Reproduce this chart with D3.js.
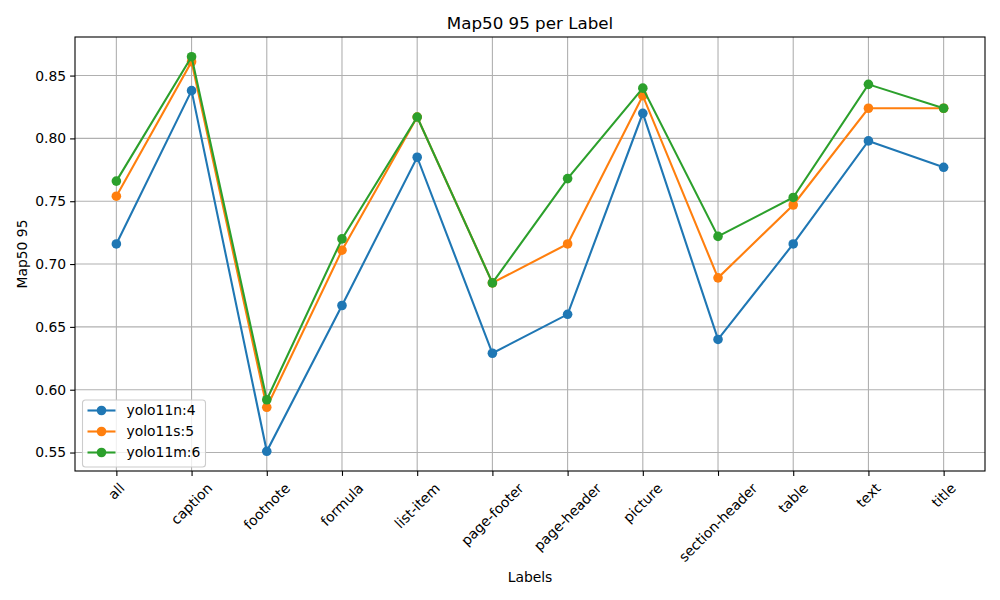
<!DOCTYPE html>
<html>
<head>
<meta charset="utf-8">
<script src="https://cdn.jsdelivr.net/npm/d3@7"></script>
<style>
  body { margin: 0; background: #fff; }
  svg { font-family: "DejaVu Sans", sans-serif; }
</style>
</head>
<body>
<div class="chart"></div>
<script>
// values
const labels = ["all", "caption", "footnote", "formula", "list-item", "page-footer",
  "page-header", "picture", "section-header", "table", "text", "title"];
const yolo11n = [0.716, 0.838, 0.551, 0.667, 0.785, 0.629, 0.660, 0.820, 0.640, 0.716, 0.798, 0.777];
const yolo11s = [0.754, 0.861, 0.586, 0.711, 0.817, 0.685, 0.716, 0.834, 0.689, 0.747, 0.824, 0.824];
const yolo11m = [0.766, 0.865, 0.592, 0.720, 0.817, 0.685, 0.768, 0.840, 0.722, 0.753, 0.843, 0.824];
const seriesNames = ["yolo11n:4", "yolo11s:5", "yolo11m:6"];
const yTicks = [0.55, 0.60, 0.65, 0.70, 0.75, 0.80, 0.85];

const colors = ["#1f77b4", "#ff7f0e", "#2ca02c"];
const series = [yolo11n, yolo11s, yolo11m].map((vals, i) => ({
  name: seriesNames[i], color: colors[i],
  points: vals.map((v, j) => ({ label: labels[j], value: v }))
}));

const width = 1000, height = 600;
const margin = { top: 37, right: 15, bottom: 129, left: 75 };
const plotW = width - margin.left - margin.right;
const plotH = height - margin.top - margin.bottom;
const markerR = 4.8;

const svg = d3.select(".chart").append("svg")
  .attr("width", width)
  .attr("height", height);

const g = svg.append("g")
  .attr("transform", `translate(${margin.left},${margin.top})`);

const x = d3.scalePoint()
  .domain(labels)
  .range([0, plotW])
  .padding(0.55);

// matplotlib style 5% margin around the data
const allVals = [].concat(yolo11n, yolo11s, yolo11m);
const lo = d3.min(allVals), hi = d3.max(allVals);
const pad = (hi - lo) * 0.05;
const y = d3.scaleLinear()
  .domain([lo - pad, hi + pad])
  .range([plotH, 0]);

// grid
g.append("g").selectAll("line")
  .data(labels).enter().append("line")
  .attr("x1", d => x(d)).attr("x2", d => x(d))
  .attr("y1", 0).attr("y2", plotH)
  .attr("stroke", "#b0b0b0").attr("stroke-width", 1.1);
g.append("g").selectAll("line")
  .data(yTicks).enter().append("line")
  .attr("x1", 0).attr("x2", plotW)
  .attr("y1", d => y(d)).attr("y2", d => y(d))
  .attr("stroke", "#b0b0b0").attr("stroke-width", 1.1);

// Y axis
const yAxis = g.append("g")
  .call(d3.axisLeft(y).tickValues(yTicks).tickFormat(d3.format(".2f"))
    .tickSize(4.9).tickPadding(4).tickSizeOuter(0));
yAxis.select(".domain").remove();
yAxis.selectAll("line").attr("stroke", "#000").attr("stroke-width", 1.1);
yAxis.selectAll("text").attr("font-size", "13.9px").attr("fill", "#000")
  .attr("font-family", "DejaVu Sans");

// X axis
const xAxis = g.append("g")
  .attr("transform", `translate(0,${plotH})`)
  .call(d3.axisBottom(x).tickSize(4.9).tickSizeOuter(0).tickFormat(""));
xAxis.select(".domain").remove();
xAxis.selectAll("line").attr("stroke", "#000").attr("stroke-width", 1.1);

// rotated tick labels, centred on the tick like matplotlib rotation=45
const xl = g.append("g");
labels.forEach(lab => {
  const t = xl.append("text")
    .attr("font-size", "13.9px")
    .attr("text-anchor", "middle")
    .attr("dy", "0.35em")
    .text(lab);
  const w = t.node().getComputedTextLength();
  const h = 13.9 * 1.05;
  const half = (w + h) * Math.SQRT1_2 / 2;
  t.attr("transform", `translate(${x(lab)},${plotH + 9.5 + half}) rotate(-45)`);
});

// spines
g.append("rect")
  .attr("width", plotW).attr("height", plotH)
  .attr("fill", "none").attr("stroke", "#000").attr("stroke-width", 1.1);

// lines + markers
const line = d3.line().x(d => x(d.label)).y(d => y(d.value));
series.forEach(s => {
  g.append("path")
    .datum(s.points)
    .attr("d", line)
    .attr("fill", "none")
    .attr("stroke", s.color)
    .attr("stroke-width", 2.1);
  g.append("g").selectAll("circle")
    .data(s.points).enter().append("circle")
    .attr("cx", d => x(d.label))
    .attr("cy", d => y(d.value))
    .attr("r", markerR)
    .attr("fill", s.color);
});

// titles
svg.append("text")
  .attr("x", margin.left + plotW / 2).attr("y", 29)
  .attr("text-anchor", "middle")
  .attr("font-size", "16.7px")
  .text("Map50 95 per Label");

svg.append("text")
  .attr("x", margin.left + plotW / 2).attr("y", 582)
  .attr("text-anchor", "middle")
  .attr("font-size", "13.9px")
  .text("Labels");

svg.append("text")
  .attr("transform", `translate(27,${margin.top + plotH / 2}) rotate(-90)`)
  .attr("text-anchor", "middle")
  .attr("font-size", "13.9px")
  .text("Map50 95");

// legend
const legend = svg.append("g").attr("transform", "translate(82.5,400)");
legend.append("rect")
  .attr("width", 123).attr("height", 67)
  .attr("rx", 3)
  .attr("fill", "#fff").attr("fill-opacity", 0.8)
  .attr("stroke", "#cccccc").attr("stroke-width", 1.1);
series.forEach((s, i) => {
  const ly = 10.5 + i * 21;
  legend.append("line")
    .attr("x1", 5).attr("x2", 33).attr("y1", ly).attr("y2", ly)
    .attr("stroke", s.color).attr("stroke-width", 2.1);
  legend.append("circle")
    .attr("cx", 19).attr("cy", ly).attr("r", markerR).attr("fill", s.color);
  legend.append("text")
    .attr("x", 44).attr("y", ly).attr("dy", "0.35em")
    .attr("font-size", "13.9px")
    .text(s.name);
});
</script>
</body>
</html>
